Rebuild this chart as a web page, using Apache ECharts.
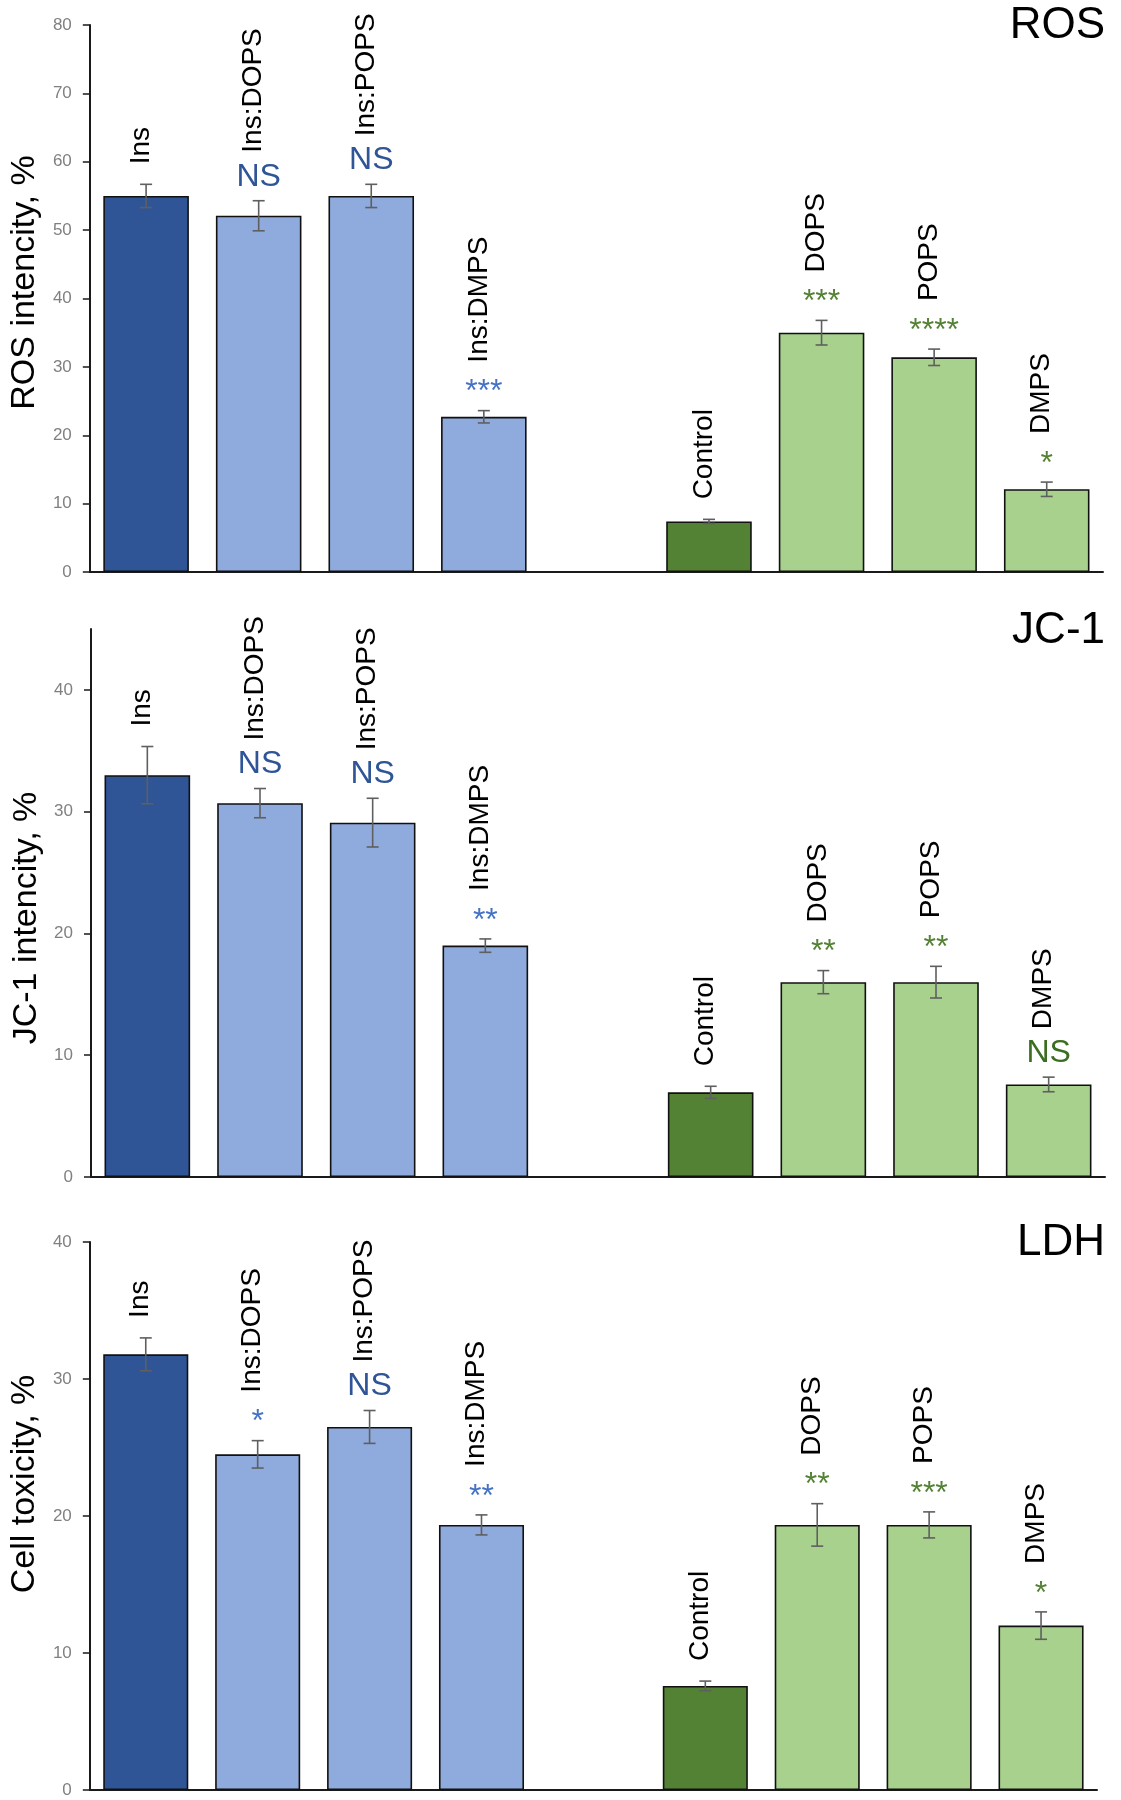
<!DOCTYPE html>
<html><head><meta charset="utf-8">
<script src="https://cdn.jsdelivr.net/npm/echarts@6/dist/echarts.min.js"></script>
<style>html,body{margin:0;padding:0;background:#fff}#c{width:1121px;height:1800px}</style>
</head><body><div id="c"></div>
<script>
// ---- data ----
const categories = ['Ins', 'Ins:DOPS', 'Ins:POPS', 'Ins:DMPS', '', 'Control', 'DOPS', 'POPS', 'DMPS'];

const rosMean = [55.0, 52.1, 55.0, 22.7, null, 7.4, 35.0, 31.4, 12.1];
const rosErr  = [1.7, 2.2, 1.7, 0.9, null, 0.3, 1.8, 1.2, 1.05];
const rosSig  = ['', 'NS', 'NS', '***', '', '', '***', '****', '*'];
const rosTicks = [0, 10, 20, 30, 40, 50, 60, 70, 80];

const jc1Mean = [33.0, 30.7, 29.1, 19.0, null, 6.95, 16.0, 16.0, 7.6];
const jc1Err  = [2.35, 1.2, 2.0, 0.55, null, 0.5, 0.95, 1.3, 0.6];
const jc1Sig  = ['', 'NS', 'NS', '**', '', '', '**', '**', 'NS'];
const jc1Ticks = [0, 10, 20, 30, 40];

const ldhMean = [31.8, 24.5, 26.5, 19.35, null, 7.6, 19.35, 19.35, 12.0];
const ldhErr  = [1.2, 1.0, 1.2, 0.73, null, 0.35, 1.55, 0.95, 1.0];
const ldhSig  = ['', '*', 'NS', '**', '', '', '**', '***', '*'];
const ldhTicks = [0, 10, 20, 30, 40];

// ---- styles ----
const FONT = 'Liberation Sans, Arial, sans-serif';
const barColors = ['#2f5597', '#8faadc', '#8faadc', '#8faadc', '#fff', '#548235', '#a9d18e', '#a9d18e', '#a9d18e'];

const panels = [
  {title: 'ROS', yName: 'ROS intencity, %', mean: rosMean, err: rosErr, sig: rosSig, ticks: rosTicks, max: 80,
   grid: {left: 89, top: 25, width: 1014, height: 547}, nameGap: 46, namePad: [0, 0, 0, 32], titleTop: 4},
  {title: 'JC-1', yName: 'JC-1 intencity, %', mean: jc1Mean, err: jc1Err, sig: jc1Sig, ticks: jc1Ticks, max: 45,
   grid: {left: 91, top: 629, width: 1014, height: 548}, nameGap: 46, namePad: [0, 30, 0, 0], titleTop: 609},
  {title: 'LDH', yName: 'Cell toxicity, %', mean: ldhMean, err: ldhErr, sig: ldhSig, ticks: ldhTicks, max: 40,
   grid: {left: 83, top: 1242, width: 1014, height: 548}, nameGap: 42, namePad: [0, 0, 0, 64], titleTop: 1221}
];

const option = {
  backgroundColor: '#ffffff',
  animation: false,
  title: [], grid: [], xAxis: [], yAxis: [], series: []
};

panels.forEach((p, k) => {
  option.title.push({
    text: p.title, right: 16, top: p.titleTop, padding: 0,
    textStyle: {fontFamily: FONT, fontSize: 44, fontWeight: 'normal', color: '#000'}
  });
  option.grid.push(Object.assign({containLabel: false}, p.grid));
  option.xAxis.push({
    type: 'category', gridIndex: k, data: categories,
    axisLine: {show: true, lineStyle: {color: '#1a1a1a', width: 2}},
    axisTick: {show: false}, axisLabel: {show: false}, splitLine: {show: false}
  });
  option.yAxis.push({
    type: 'value', gridIndex: k, min: 0, max: p.max, interval: 10,
    name: p.yName, nameLocation: 'middle', nameGap: p.nameGap,
    nameTextStyle: {fontFamily: FONT, fontSize: 34, color: '#000', padding: p.namePad},
    axisLine: {show: true, lineStyle: {color: '#1a1a1a', width: 2}},
    axisTick: {show: true, length: 7, customValues: p.ticks, lineStyle: {color: '#1a1a1a', width: 1.5}},
    axisLabel: {show: true, customValues: p.ticks, margin: 18, fontFamily: FONT, fontSize: 17, color: '#808080'},
    splitLine: {show: false}
  });
  // bars
  option.series.push({
    type: 'bar', xAxisIndex: k, yAxisIndex: k, barCategoryGap: '24%',
    data: p.mean.map((v, i) => v == null ? null : {
      value: v, itemStyle: {color: barColors[i], borderColor: '#111', borderWidth: 1.6}
    }),
    z: 2
  });
  const pts = [];
  p.mean.forEach((v, i) => { if (v != null) pts.push([i, v, p.err[i]]); });
  // error bars
  option.series.push({
    type: 'custom', xAxisIndex: k, yAxisIndex: k, z: 3,
    data: pts,
    renderItem: (params, api) => {
      const i = api.value(0), m = api.value(1), e = api.value(2);
      const t = api.coord([i, m + e]), b = api.coord([i, m - e]);
      const x = t[0], st = {stroke: '#5f5f5f', lineWidth: 1.6};
      return {type: 'group', children: [
        {type: 'line', shape: {x1: x, y1: t[1], x2: x, y2: b[1]}, style: st},
        {type: 'line', shape: {x1: x - 6, y1: t[1], x2: x + 6, y2: t[1]}, style: st},
        {type: 'line', shape: {x1: x - 6, y1: b[1], x2: x + 6, y2: b[1]}, style: st}
      ]};
    }
  });
  // significance marks + category labels above bars
  option.series.push({
    type: 'custom', xAxisIndex: k, yAxisIndex: k, z: 4, clip: false,
    data: pts,
    renderItem: (params, api) => {
      const i = api.value(0), m = api.value(1), e = api.value(2);
      const t = api.coord([i, m + e]);
      const x = t[0], yTop = t[1];
      const s = p.sig[i];
      const left = i < 4;
      const children = [];
      if (s) {
        const star = s.indexOf('*') >= 0;
        const col = star ? (left ? '#4472c4' : '#548235') : (left ? '#2f5597' : '#3b6e22');
        children.push({type: 'text', x: x, y: yTop - 24 + (star ? 6 : 0), style: {
          text: s, fill: col, font: '32px ' + FONT, align: 'center', verticalAlign: 'middle'
        }});
      }
      const off = s ? 48 : 20;
      children.push({type: 'text', x: x - 5, y: yTop - off, rotation: Math.PI / 2, style: {
        text: categories[i], fill: '#000', font: '28px ' + FONT, align: 'left', verticalAlign: 'middle'
      }});
      return {type: 'group', children: children};
    }
  });
});

const chart = echarts.init(document.getElementById('c'), null, {renderer: 'canvas', width: 1121, height: 1800});
chart.setOption(option);
</script>
</body></html>
